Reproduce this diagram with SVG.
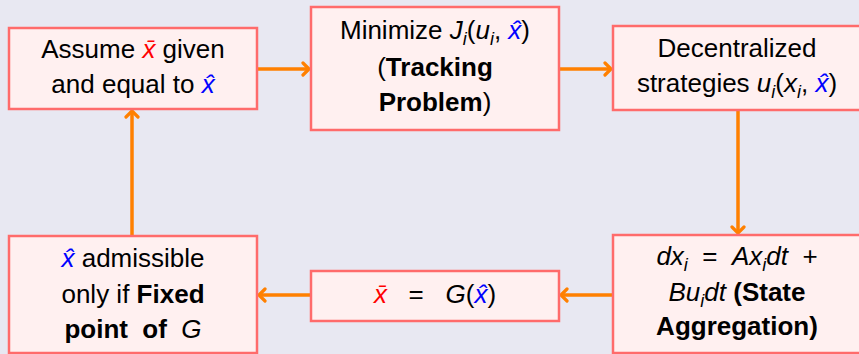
<svg xmlns="http://www.w3.org/2000/svg" width="859" height="354" viewBox="0 0 859 354">
<defs>
<style>
.bg{fill:#e8e8f2}
.box{fill:#fff0f0;stroke:#ff6b6b;stroke-width:2.5}
text{font-family:"Liberation Sans","DejaVu Sans",sans-serif;font-size:26px;fill:#000;text-anchor:middle;white-space:pre}
.m{font-style:italic}
.b{font-weight:bold}
.r{fill:#ff0000}
.bl{fill:#0000ff}
.s{font-size:18px}
.arr{stroke:#ff8000;stroke-width:3.5;fill:none;marker-end:url(#ah)}
</style>
<marker id="ah" markerUnits="userSpaceOnUse" viewBox="-10 -8 12 16" refX="0" refY="0" markerWidth="12" markerHeight="16" orient="auto">
<path d="M-6,-6 L0,0 L-6,6" fill="none" stroke="#ff8000" stroke-width="3.2" stroke-linecap="round" stroke-linejoin="round"/>
</marker>
</defs>
<rect class="bg" x="0" y="0" width="859" height="354"/>
<g id="connectors">
<line class="arr" x1="258" y1="69" x2="309" y2="69"/>
<line class="arr" x1="560" y1="69" x2="611" y2="69"/>
<line class="arr" x1="738" y1="111" x2="738" y2="233"/>
<line class="arr" x1="612" y1="295" x2="561" y2="295"/>
<line class="arr" x1="310" y1="295" x2="259" y2="295"/>
<line class="arr" x1="132" y1="235" x2="132" y2="111"/>
</g>
<g id="n1">
<rect class="box" x="9" y="28" width="248" height="81"/>
<text x="133" y="58" xml:space="preserve">Assume <tspan class="m r">x̄</tspan> given</text>
<text x="133" y="93" xml:space="preserve">and equal to <tspan class="m bl">x̂</tspan></text>
</g>
<g id="n2">
<rect class="box" x="311" y="7" width="248" height="123"/>
<text x="435" y="39">Minimize <tspan class="m">J</tspan><tspan class="m s" dy="6">i</tspan><tspan dy="-6">(</tspan><tspan class="m">u</tspan><tspan class="m s" dy="6">i</tspan><tspan dy="-6">, </tspan><tspan class="m bl">x̂</tspan>)</text>
<text x="435" y="76">(<tspan class="b">Tracking</tspan></text>
<text x="435" y="111"><tspan class="b">Problem</tspan>)</text>
</g>
<g id="n3">
<rect class="box" x="613" y="26" width="250" height="84"/>
<text x="737" y="57">Decentralized</text>
<text x="737" y="92">strategies <tspan class="m">u</tspan><tspan class="m s" dy="6">i</tspan><tspan dy="-6">(</tspan><tspan class="m">x</tspan><tspan class="m s" dy="6">i</tspan><tspan dy="-6">, </tspan><tspan class="m bl">x̂</tspan>)</text>
</g>
<g id="n6">
<rect class="box" x="613" y="235" width="250" height="118"/>
<text x="737" y="265" xml:space="preserve"><tspan class="m">dx</tspan><tspan class="m s" dy="6">i</tspan><tspan dy="-6">  =  </tspan><tspan class="m">Ax</tspan><tspan class="m s" dy="6">i</tspan><tspan class="m" dy="-6">dt</tspan>  +</text>
<text x="737" y="301" xml:space="preserve"><tspan class="m">Bu</tspan><tspan class="m s" dy="6">i</tspan><tspan class="m" dy="-6">dt</tspan> <tspan class="b">(State</tspan></text>
<text x="737" y="335" class="b">Aggregation)</text>
</g>
<g id="n5">
<rect class="box" x="311" y="271" width="248" height="50"/>
<text x="435" y="303" xml:space="preserve"><tspan class="m r">x̄</tspan>   =   <tspan class="m">G</tspan>(<tspan class="m bl">x̂</tspan>)</text>
</g>
<g id="n4">
<rect class="box" x="9" y="236" width="248" height="117"/>
<text x="133" y="267" xml:space="preserve"><tspan class="m bl">x̂</tspan> admissible</text>
<text x="133" y="303" xml:space="preserve">only if <tspan class="b">Fixed</tspan></text>
<text x="133" y="338" xml:space="preserve"><tspan class="b">point  of</tspan>  <tspan class="m">G</tspan></text>
</g>
</svg>
